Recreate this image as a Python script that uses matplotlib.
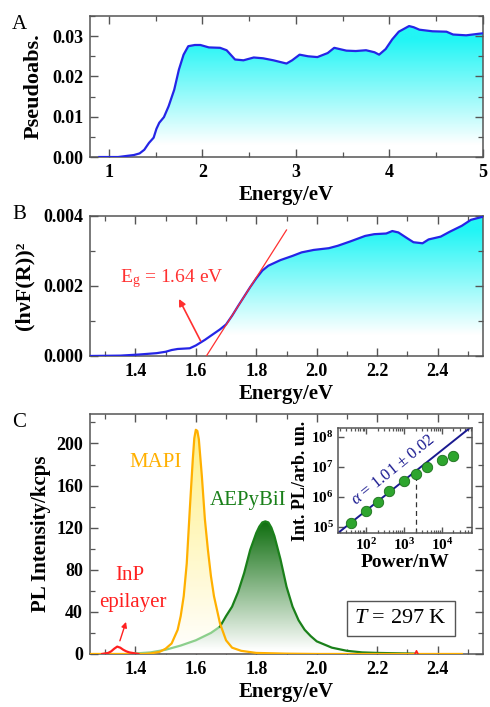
import numpy as np
import matplotlib
matplotlib.use('Agg')
from matplotlib import pyplot as plt
from matplotlib.colors import LinearSegmentedColormap
from matplotlib.patches import Polygon
from matplotlib.ticker import MultipleLocator, FuncFormatter, LogLocator, NullFormatter

plt.rcParams['font.family'] = ['Liberation Serif', 'DejaVu Serif']
plt.rcParams['font.weight'] = 'bold'
plt.rcParams['axes.labelweight'] = 'bold'
plt.rcParams['mathtext.fontset'] = 'custom'
plt.rcParams['mathtext.rm'] = 'Liberation Serif:normal'
plt.rcParams['mathtext.it'] = 'Liberation Serif:italic:normal'
plt.rcParams['mathtext.bf'] = 'Liberation Serif:bold'

# ---- panel A : pseudo absorbance ----
absE = [0.90, 1.10, 1.27, 1.33, 1.38, 1.43, 1.48, 1.51, 1.54, 1.59, 1.64, 1.70, 1.75, 1.80,
        1.85, 1.92, 1.98, 2.07, 2.19, 2.26, 2.35, 2.44, 2.55, 2.65, 2.76, 2.90, 2.96, 3.04,
        3.13, 3.23, 3.34, 3.41, 3.54, 3.64, 3.75, 3.84, 3.89, 3.96, 4.03, 4.10, 4.21, 4.26,
        4.32, 4.46, 4.61, 4.68, 4.82, 4.96, 5.00]
absV = [0.0, 0.0, 0.0005, 0.0009, 0.0018, 0.0035, 0.0048, 0.0070, 0.0085, 0.0099, 0.0126,
        0.0167, 0.0217, 0.0254, 0.0275, 0.0278, 0.0278, 0.0272, 0.0271, 0.0265, 0.0242,
        0.0240, 0.0247, 0.0245, 0.0240, 0.0232, 0.0240, 0.0254, 0.0250, 0.0248, 0.0258,
        0.0271, 0.0264, 0.0263, 0.0265, 0.0260, 0.0254, 0.0268, 0.0292, 0.0311, 0.0325,
        0.0322, 0.0316, 0.0312, 0.0311, 0.0304, 0.0302, 0.0306, 0.0307]

# ---- panel B : Tauc plot ----
taucE = [1.25, 1.35, 1.41, 1.47, 1.50, 1.52, 1.54, 1.58, 1.60, 1.63, 1.66, 1.68, 1.70, 1.72,
         1.74, 1.76, 1.78, 1.80, 1.82, 1.84, 1.88, 1.92, 1.95, 1.99, 2.04, 2.07, 2.11, 2.16,
         2.19, 2.23, 2.25, 2.27, 2.30, 2.32, 2.35, 2.37, 2.41, 2.44, 2.48, 2.51, 2.55]
taucV = [0.0, 0.00001, 0.00004, 0.00008, 0.00012, 0.00017, 0.00020, 0.00022, 0.00030,
         0.00046, 0.00064, 0.00076, 0.00090, 0.00115, 0.00143, 0.00170, 0.00197, 0.00222,
         0.00244, 0.00258, 0.00274, 0.00286, 0.00296, 0.00303, 0.00308, 0.00315, 0.00327,
         0.00343, 0.00348, 0.00350, 0.00357, 0.00353, 0.00336, 0.00325, 0.00322, 0.00333,
         0.00341, 0.00355, 0.00372, 0.00389, 0.00398]
tangentE = [1.635, 1.90]
tangentV = [0.0, 0.0036]

# ---- panel C : PL spectra ----
mapiE = [1.25, 1.43, 1.45, 1.48, 1.50, 1.52, 1.54, 1.55, 1.56, 1.57, 1.58, 1.59, 1.595, 1.60,
         1.605, 1.61, 1.62, 1.63, 1.64, 1.65, 1.66, 1.68, 1.70, 1.72, 1.75, 1.80, 1.90, 2.00,
         2.48]
mapiI = [0.0, 0.0, 0.5, 2, 5, 10, 23, 36, 55, 86, 137, 185, 205, 213, 212, 204, 169, 128, 99,
         74, 55, 29, 13, 6, 3, 1, 0.3, 0.0, 0.0]
greenE = [1.40, 1.45, 1.50, 1.55, 1.60, 1.65, 1.68, 1.70, 1.72, 1.74, 1.76, 1.78, 1.80, 1.81,
          1.82, 1.83, 1.84, 1.85, 1.86, 1.88, 1.90, 1.92, 1.94, 1.96, 1.98, 2.00, 2.05, 2.10,
          2.15, 2.20, 2.33]
greenI = [0.5, 1.5, 4, 8, 13, 20, 26, 36, 45, 59, 77, 99, 115, 121, 125, 126, 125, 120, 112,
          90, 64, 45, 32, 23, 17, 12, 6, 3, 1.5, 1, 0.3]
inpE = [1.29, 1.30, 1.31, 1.32, 1.33, 1.34, 1.35, 1.36, 1.37, 1.38, 1.39, 1.40, 1.41]
inpI = [0.0, 0.5, 1, 2.5, 5, 7, 6, 4, 2.5, 1.5, 1, 0.5, 0.0]
spikeE = [2.325, 2.33, 2.335]
spikeI = [0.0, 3.0, 0.0]
baseE = [1.25, 2.48]
baseI = [0.0, 0.0]

# ---- inset : power dependence ----
power = [40, 100, 200, 400, 1000, 2000, 4000, 10000, 20000]
intPL = [1.4e5, 3.4e5, 6.9e5, 1.6e6, 3.4e6, 5.7e6, 1.0e7, 1.7e7, 2.3e7]
fitP = [18, 6.2e4]
fitI = [6.3e4, 2.3e8]
markP = [2000, 2000]
markI = [6.3e4, 5.7e6]

frame_col = '#555555'


def style_axes(ax):
    for s in ax.spines.values():
        s.set_color(frame_col)
        s.set_linewidth(1.1)
    ax.tick_params(which='both', direction='in', top=True, right=True, color=frame_col,
                   labelsize=13, pad=5)
    ax.tick_params(which='major', length=6, width=1.0)
    ax.tick_params(which='minor', length=3.5, width=0.9)


def grad_fill(ax, x, y, c_top, y_top, y_bot, ymax, alpha=1.0, z=1):
    x = np.asarray(x, float)
    y = np.asarray(y, float)
    cmap = LinearSegmentedColormap.from_list('g', ['white', c_top])
    yy = np.linspace(0, ymax, 300)
    t = np.clip((yy - y_bot) / (y_top - y_bot), 0, 1)
    img = ax.imshow(t[:, None], extent=[x.min(), x.max(), 0, ymax], origin='lower',
                    aspect='auto', cmap=cmap, vmin=0, vmax=1, zorder=z, alpha=alpha,
                    interpolation='bilinear')
    verts = np.vstack([[x[0], 0], np.column_stack([x, y]), [x[-1], 0]])
    poly = Polygon(verts, closed=True, facecolor='none', edgecolor='none')
    ax.add_patch(poly)
    img.set_clip_path(poly)


fig = plt.figure(figsize=(4.9, 7.07), dpi=100)

# panel A
axA = fig.add_axes([0.1837, 0.7779, 0.802, 0.1995])
grad_fill(axA, absE, absV, '#22f5f5', 0.029, 0.003, 0.035)
axA.plot(absE, absV, color='#2525e6', lw=1.6, zorder=3)
axA.set_xlim(0.8, 5.0)
axA.set_ylim(0, 0.035)
axA.xaxis.set_major_locator(MultipleLocator(1))
axA.xaxis.set_minor_locator(MultipleLocator(0.5))
axA.yaxis.set_major_locator(MultipleLocator(0.01))
axA.yaxis.set_minor_locator(MultipleLocator(0.005))
axA.yaxis.set_major_formatter(FuncFormatter(lambda v, p: '%.2f' % v))
style_axes(axA)
axA.set_xlabel('Energy/eV', fontsize=15, labelpad=3)
axA.set_ylabel('Pseudoabs.', fontsize=16, labelpad=6)

# panel B
axB = fig.add_axes([0.1837, 0.4965, 0.802, 0.198])
grad_fill(axB, taucE, taucV, '#22f5f5', 0.0036, 0.0006, 0.004)
axB.plot(taucE, taucV, color='#2525e6', lw=1.6, zorder=3)
axB.plot(tangentE, tangentV, color='#ff3030', lw=0.9, zorder=4)
axB.annotate('', xy=(1.54, 0.00170), xytext=(1.62, 0.00036),
             arrowprops=dict(arrowstyle='-|>', color='#ff3030', lw=1.2,
                             mutation_scale=10))
axB.text(1.52, 0.00222, 'E$_\\mathregular{g}$ = 1.64 eV', color='#ff3030', fontsize=14,
         fontweight='normal', ha='center', va='center')
axB.set_xlim(1.25, 2.55)
axB.set_ylim(0, 0.004)
axB.xaxis.set_major_locator(MultipleLocator(0.2))
axB.xaxis.set_minor_locator(MultipleLocator(0.1))
axB.yaxis.set_major_locator(MultipleLocator(0.002))
axB.yaxis.set_minor_locator(MultipleLocator(0.001))
axB.xaxis.set_major_formatter(FuncFormatter(lambda v, p: '%.1f' % v))
axB.yaxis.set_major_formatter(FuncFormatter(lambda v, p: '%.3f' % v))
style_axes(axB)
axB.set_xlabel('Energy/eV', fontsize=15, labelpad=3)
axB.set_ylabel('(h\u03bdF(R))\u00b2', fontsize=16, labelpad=6)

# panel C
axC = fig.add_axes([0.1837, 0.075, 0.802, 0.3394])
ymaxC = 228
grad_fill(axC, mapiE, mapiI, '#ffee70', 215, 0, ymaxC, alpha=0.85, z=1)
grad_fill(axC, greenE, greenI, '#0f6e0f', 126, 3, ymaxC, alpha=1.0, z=2)
gE = np.array(greenE)
gI = np.array(greenI)
axC.plot(gE[gE <= 1.68], gI[gE <= 1.68], color='#8ccf8c', lw=1.6, zorder=3)
axC.plot(gE[gE >= 1.68], gI[gE >= 1.68], color='#1a801a', lw=1.6, zorder=3)
axC.plot(baseE, baseI, color='#8b3a3a', lw=1.0, zorder=2)
axC.plot(mapiE, mapiI, color='#ffb000', lw=1.6, zorder=4)
axC.plot(inpE, inpI, color='#ff2020', lw=1.6, zorder=5)
axC.plot(spikeE, spikeI, color='#ff2020', lw=1.2, zorder=5)
axC.annotate('', xy=(1.372, 33), xytext=(1.346, 10),
             arrowprops=dict(arrowstyle='-|>', color='#ff2020', lw=1.0,
                             mutation_scale=8))
axC.text(0.168, 0.796, 'MAPI', transform=axC.transAxes, color='#ffb000', fontsize=15,
         fontweight='normal', ha='center', va='center')
axC.text(0.402, 0.639, 'AEPyBiI', transform=axC.transAxes, color='#1a801a', fontsize=15,
         fontweight='normal', ha='center', va='center')
axC.text(0.102, 0.329, 'InP', transform=axC.transAxes, color='#ff2020', fontsize=15,
         fontweight='normal', ha='center', va='center')
axC.text(0.108, 0.2125, 'epilayer', transform=axC.transAxes, color='#ff2020', fontsize=15,
         fontweight='normal', ha='center', va='center')
axC.text(0.791, 0.148, '$\\mathit{T}$ = 297 K', transform=axC.transAxes, fontsize=16,
         fontweight='normal', ha='center', va='center',
         bbox=dict(boxstyle='square,pad=0.35', facecolor='white', edgecolor=frame_col, lw=1.0))
axC.set_xlim(1.25, 2.55)
axC.set_ylim(0, ymaxC)
axC.xaxis.set_major_locator(MultipleLocator(0.2))
axC.xaxis.set_minor_locator(MultipleLocator(0.1))
axC.yaxis.set_major_locator(MultipleLocator(40))
axC.yaxis.set_minor_locator(MultipleLocator(20))
axC.xaxis.set_major_formatter(FuncFormatter(lambda v, p: '%.1f' % v))
style_axes(axC)
axC.set_xlabel('Energy/eV', fontsize=15, labelpad=3)
axC.set_ylabel('PL Intensity/kcps', fontsize=15, labelpad=4)

# inset
axI = fig.add_axes([0.6898, 0.2461, 0.2735, 0.1485])
axI.set_xscale('log')
axI.set_yscale('log')
axI.plot(fitP, fitI, color='#1a1a90', lw=1.4, zorder=2)
axI.plot(markP, markI, color='#333333', lw=0.9, ls=(0, (4, 3)), zorder=1)
axI.plot(power, intPL, 'o', ms=7.5, color='#2ea52e', mec='#1b6e1b', mew=0.6, zorder=3)
axI.text(515, 8e6, '$\\mathit{\\alpha}$ = 1.01 \u00b1 0.02', color='#1a1a90', fontsize=12,
         fontweight='normal', rotation=39, ha='center', va='center')
axI.set_xlim(18, 6.2e4)
axI.set_ylim(6.3e4, 2.0e8)
logfmt = FuncFormatter(lambda v, p: '$\\mathregular{10^{%d}}$' % round(np.log10(v)))
axI.xaxis.set_major_locator(LogLocator(base=10, numticks=10))
axI.yaxis.set_major_locator(LogLocator(base=10, numticks=10))
axI.xaxis.set_major_formatter(logfmt)
axI.yaxis.set_major_formatter(logfmt)
axI.xaxis.set_minor_formatter(NullFormatter())
axI.yaxis.set_minor_formatter(NullFormatter())
style_axes(axI)
axI.tick_params(which='both', labelsize=11, pad=3)
axI.tick_params(which='major', length=4)
axI.tick_params(which='minor', length=2.5)
axI.set_xlabel('Power/nW', fontsize=14, labelpad=1)
axI.set_ylabel('Int. PL/arb. un.', fontsize=13, labelpad=2)

# panel letters
fig.text(0.025, 0.965, 'A', fontsize=15, fontweight='normal', va='center', ha='left')
fig.text(0.025, 0.697, 'B', fontsize=15, fontweight='normal', va='center', ha='left')
fig.text(0.025, 0.403, 'C', fontsize=15, fontweight='normal', va='center', ha='left')

fig.savefig('out.png', dpi=100)
